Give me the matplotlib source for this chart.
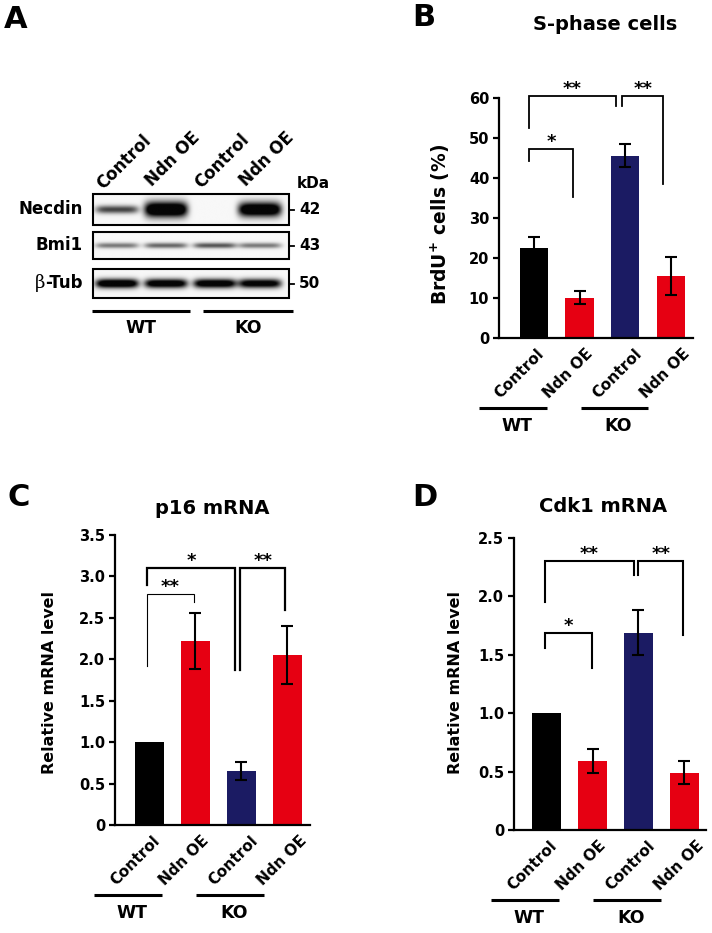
import numpy as np
import matplotlib
matplotlib.use('Agg')
import matplotlib.pyplot as plt
from matplotlib.patches import Rectangle

plt.rcParams['font.family'] = 'DejaVu Sans'
plt.rcParams['font.weight'] = 'bold'
plt.rcParams['mathtext.default'] = 'regular'

# ---- data ----
groups = ['WT', 'KO']
conditions = ['Control', 'Ndn OE', 'Control', 'Ndn OE']
bar_colors = ['black', '#e60012', '#1b1b63', '#e60012']

brdu_mean = [22.6, 10.1, 45.6, 15.5]
brdu_err = [2.6, 1.7, 2.9, 4.7]
p16_mean = [1.0, 2.22, 0.65, 2.05]
p16_err = [0.0, 0.34, 0.11, 0.35]
cdk1_mean = [1.0, 0.59, 1.69, 0.49]
cdk1_err = [0.0, 0.10, 0.19, 0.10]

# western blot: band strength per lane (0 = no band, 1 = strong)
blot_rows = ['Necdin', 'Bmi1', '-Tub']
blot_kda = ['42', '43', '50']
necdin_band = [0.5, 1.0, 0.0, 0.95]
bmi1_band = [0.35, 0.4, 0.45, 0.35]
btub_band = [0.9, 0.85, 0.85, 0.8]

# significance brackets: x1, x2, top, left end, right end, label, linewidth
brdu_sig = [(-0.11, 1.80, 60.6, 52.5, 58.0, '**', 1.3),
            (1.93, 2.84, 60.6, 58.0, 38.5, '**', 1.3),
            (-0.11, 0.86, 47.2, 44.3, 35.2, '*', 1.3)]
p16_sig = [(-0.06, 1.87, 3.10, 2.90, 1.87, '*', 1.6),
           (-0.06, 0.97, 2.79, 1.92, 2.69, '**', 0.8),
           (1.97, 2.95, 3.10, 1.87, 2.60, '**', 1.6)]
cdk1_sig = [(-0.04, 1.91, 2.30, 1.95, 2.18, '**', 1.5),
            (1.99, 2.98, 2.30, 2.18, 1.67, '**', 1.5),
            (-0.04, 0.99, 1.69, 1.56, 1.39, '*', 1.5)]

W, H = 712, 933
fig = plt.figure(figsize=(W / 100, H / 100), dpi=100)

# overlay in pixel coordinates for panel A and loose text
ov = fig.add_axes([0, 0, 1, 1])
ov.axis('off')


def px_rect(l, t, r, b):
    return [l / W, 1 - b / H, (r - l) / W, (b - t) / H]


def bar_panel(box, xlim, means, errs, ylim, yticks, ytl, sig, bw=0.62):
    l, t, r, b = box
    ax = fig.add_axes(px_rect(l, t, r, b))
    ax.patch.set_alpha(0)
    x = np.arange(len(means))
    means = np.array(means)
    errs = np.array(errs)
    ax.bar(x, means, width=bw, color=bar_colors, zorder=2)
    m = errs > 0
    ax.errorbar(x[m], means[m], yerr=errs[m], fmt='none', ecolor='black',
                elinewidth=1.5, capsize=4.5, capthick=1.5, zorder=3)
    ax.set_xlim(*xlim)
    ax.set_ylim(*ylim)
    ax.set_yticks(yticks, ytl, fontsize=10.5, fontweight='bold')
    ax.set_xticks(x * 1.07 + 0.05, conditions, rotation=45, ha='right', va='top',
                  rotation_mode='anchor', fontsize=11, fontweight='bold')
    ax.tick_params(axis='y', direction='out', length=4, width=1.6, pad=3)
    ax.tick_params(axis='x', length=0, pad=6)
    for s in ['top', 'right']:
        ax.spines[s].set_visible(False)
    for s in ['left', 'bottom']:
        ax.spines[s].set_linewidth(1.6)

    for x1, x2, ytop, yl, yr, star, lw in sig:
        ax.plot([x1, x1, x2, x2], [yl, ytop, ytop, yr], color='black', lw=lw,
                clip_on=False, solid_joinstyle='miter')
        ax.annotate(star, ((x1 + x2) / 2, ytop), xytext=(0, 1.5), textcoords='offset points',
                    ha='center', va='baseline', fontsize=13, fontweight='bold',
                    annotation_clip=False)

    # genotype underlines
    h_px = b - t
    tr = ax.get_xaxis_transform()
    for g, (x1, x2) in zip(groups, [(-1.2, 0.28), (1.02, 2.5)]):
        ax.plot([x1, x2], [-70 / h_px] * 2, transform=tr, color='black', lw=2.2,
                clip_on=False, solid_capstyle='butt')
        ax.text((x1 + x2) / 2 + 0.08, -88 / h_px, g, transform=tr, ha='center',
                va='center', fontsize=12.5, fontweight='bold')
    return ax


# B
bar_panel((499, 98, 693, 338), (-0.77, 3.49), brdu_mean, brdu_err, (0, 60),
          np.arange(0, 61, 10), [str(v) for v in range(0, 61, 10)], brdu_sig)
# C
bar_panel((115, 535, 310, 825), (-0.75, 3.49), p16_mean, p16_err, (0, 3.5),
          np.arange(0, 3.51, 0.5), ['0'] + ['%.1f' % v for v in np.arange(0.5, 3.51, 0.5)],
          p16_sig, bw=0.63)
# D
bar_panel((514, 538, 706, 830), (-0.71, 3.47), cdk1_mean, cdk1_err, (0, 2.5),
          np.arange(0, 2.51, 0.5), ['0'] + ['%.1f' % v for v in np.arange(0.5, 2.51, 0.5)],
          cdk1_sig, bw=0.63)

# ---- panel A: western blot ----
lane_x = [117, 166, 215, 260]
bx0, bx1 = 93, 289
row_boxes = [(194, 225), (232, 259), (269, 298)]
row_bands = [necdin_band, bmi1_band, btub_band]
for k, (band, (top, bot)) in enumerate(zip(row_bands, row_boxes)):
    xs = np.linspace(bx0, bx1, 500)
    ys = np.linspace(top, bot, 90)
    X, Y = np.meshgrid(xs, ys)
    yc = (top + bot) / 2
    dark = np.zeros_like(X)
    for cx, I in zip(lane_x, band):
        if k == 0:
            hh = 2.8 + 5.0 * I ** 2
        elif k == 1:
            hh = 2.8
        else:
            hh = 4.6
        dark += 1.5 * I * np.exp(-np.abs((X - cx) / 21.5) ** 6) * np.exp(-((Y - yc) / hh) ** 2)
    img = 0.97 - 0.95 * np.clip(dark, 0, 1)
    ov.imshow(img, cmap='gray', vmin=0, vmax=1, extent=(bx0, bx1, bot, top),
              aspect='auto', interpolation='bilinear')
    ov.add_patch(Rectangle((bx0, top), bx1 - bx0, bot - top, fill=False, lw=1.5,
                           ec='black'))
    ov.plot([bx1, bx1 + 5], [yc, yc], color='black', lw=1.3)
    ov.text(bx1 + 10, yc, blot_kda[k], ha='left', va='center', fontsize=11)

ov.text(83, 209.5, blot_rows[0], ha='right', va='center', fontsize=12)
ov.text(83, 245.5, blot_rows[1], ha='right', va='center', fontsize=12)
tub = ov.text(83, 283.5, blot_rows[2], ha='right', va='center', fontsize=12)
ov.text(297, 183, 'kDa', ha='left', va='center', fontsize=11)

for cx, lab, yb in zip(lane_x, conditions, [190, 187, 189, 187]):
    ov.text(cx - 14, yb, lab, rotation=45, rotation_mode='anchor', ha='left',
            va='baseline', fontsize=12)

for g, (x1, x2) in zip(groups, [(92, 190), (203, 293)]):
    ov.plot([x1, x2], [311, 311], color='black', lw=2.2, solid_capstyle='butt')
    ov.text((x1 + x2) / 2, 328, g, ha='center', va='center', fontsize=12.5)

ov.set_xlim(0, W)
ov.set_ylim(H, 0)

# beta in serif before "-Tub"
fig.canvas.draw()
bb = tub.get_window_extent()
inv = ov.transData.inverted()
x_left = inv.transform((bb.x0, bb.y0))[0]
ov.text(x_left, 283.5, 'β', ha='right', va='center', fontsize=13,
        family='DejaVu Serif', fontweight='normal')

# panel letters and titles
for lab, (x, y) in zip('ABCD', [(16, 19), (424, 18), (19, 497), (425, 498)]):
    ov.text(x, y, lab, ha='center', va='center', fontsize=22)
ov.text(605, 25, 'S-phase cells', ha='center', va='center', fontsize=14)
ov.text(212, 508, 'p16 mRNA', ha='center', va='center', fontsize=14)
ov.text(603, 506, 'Cdk1 mRNA', ha='center', va='center', fontsize=14)

ov.text(440, 224, 'BrdU$^{+}$ cells (%)', rotation=90, ha='center', va='center', fontsize=13.5)
ov.text(50, 682, 'Relative mRNA level', rotation=90, ha='center', va='center', fontsize=11.5)
ov.text(456, 683, 'Relative mRNA level', rotation=90, ha='center', va='center', fontsize=11.5)

fig.savefig('out.png', dpi=100)
